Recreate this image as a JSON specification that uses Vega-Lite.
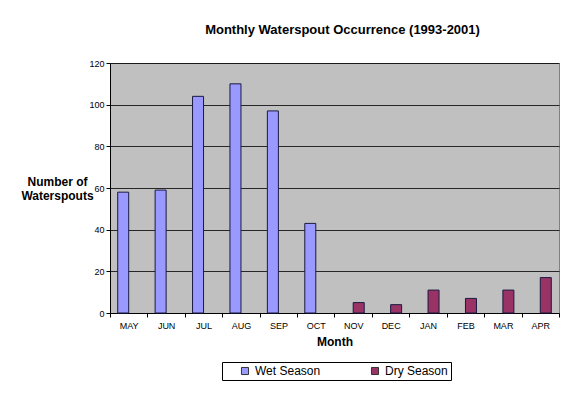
{
  "$schema": "https://vega.github.io/schema/vega-lite/v6.json",
  "width": 449,
  "height": 250,
  "autosize": "none",
  "padding": {"left": 110, "top": 63, "right": 17, "bottom": 81},
  "background": "white",
  "config": {
    "font": "Liberation Sans",
    "view": {"fill": "#C0C0C0", "stroke": "#808080"}
  },
  "title": {
    "text": "Monthly Waterspout Occurrence (1993-2001)",
    "font": "Liberation Sans",
    "fontSize": 13,
    "fontWeight": "bold",
    "color": "black",
    "anchor": "middle",
    "offset": 22,
    "dx": 8
  },
  "data": {
    "values": [
      {"month": "MAY", "count": 58, "season": "Wet Season"},
      {"month": "JUN", "count": 59, "season": "Wet Season"},
      {"month": "JUL", "count": 104, "season": "Wet Season"},
      {"month": "AUG", "count": 110, "season": "Wet Season"},
      {"month": "SEP", "count": 97, "season": "Wet Season"},
      {"month": "OCT", "count": 43, "season": "Wet Season"},
      {"month": "NOV", "count": 5, "season": "Dry Season"},
      {"month": "DEC", "count": 4, "season": "Dry Season"},
      {"month": "JAN", "count": 11, "season": "Dry Season"},
      {"month": "FEB", "count": 7, "season": "Dry Season"},
      {"month": "MAR", "count": 11, "season": "Dry Season"},
      {"month": "APR", "count": 17, "season": "Dry Season"}
    ]
  },
  "mark": {"type": "bar", "stroke": "#1a1a40", "strokeWidth": 1},
  "encoding": {
    "x": {
      "field": "month",
      "type": "nominal",
      "sort": ["MAY", "JUN", "JUL", "AUG", "SEP", "OCT", "NOV", "DEC", "JAN", "FEB", "MAR", "APR"],
      "scale": {"paddingInner": 0, "paddingOuter": 0},
      "axis": {
        "title": "Month",
        "titleFontSize": 12,
        "titleFontWeight": "bold",
        "titleColor": "black",
        "titlePadding": 6,
        "labelAngle": 0,
        "labelFontSize": 9,
        "labelColor": "black",
        "labelPadding": 4,
        "tickBand": "extent",
        "tickSize": 4,
        "tickColor": "black",
        "domainColor": "black",
        "grid": false
      }
    },
    "xOffset": {
      "field": "season",
      "type": "nominal",
      "sort": ["Wet Season", "Dry Season"],
      "scale": {"paddingInner": 0, "paddingOuter": 0.7}
    },
    "y": {
      "field": "count",
      "type": "quantitative",
      "scale": {"domain": [0, 120], "nice": false},
      "axis": {
        "values": [0, 20, 40, 60, 80, 100, 120],
        "title": ["Number of", "Waterspouts"],
        "titleAngle": 0,
        "titleX": -53,
        "titleY": 118,
        "titleAlign": "center",
        "titleBaseline": "middle",
        "titleFontSize": 12,
        "titleFontWeight": "bold",
        "titleColor": "black",
        "labelFontSize": 9,
        "labelColor": "black",
        "tickSize": 4,
        "tickColor": "black",
        "domainColor": "black",
        "grid": true,
        "gridColor": "black",
        "gridOpacity": 0.8
      }
    },
    "color": {
      "field": "season",
      "type": "nominal",
      "scale": {"domain": ["Wet Season", "Dry Season"], "range": ["#9999FF", "#993366"]},
      "legend": {
        "title": null,
        "orient": "none",
        "direction": "horizontal",
        "legendX": 112,
        "legendY": 299,
        "strokeColor": "black",
        "fillColor": "white",
        "padding": 3,
        "symbolOffset": 14,
        "columnPadding": 34,
        "labelFontSize": 12,
        "labelColor": "black",
        "symbolType": "square",
        "symbolSize": 50,
        "symbolStrokeColor": "#333333",
        "symbolStrokeWidth": 1
      }
    }
  }
}
